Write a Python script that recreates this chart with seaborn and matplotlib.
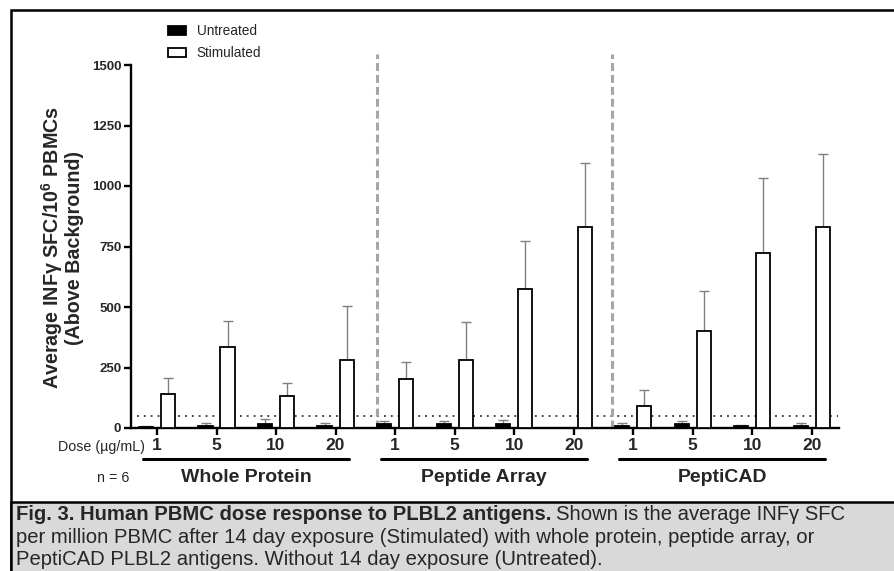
import numpy as np
import pandas as pd
import matplotlib
matplotlib.use("Agg")
import matplotlib.pyplot as plt
import seaborn as sns
from matplotlib.patches import Rectangle
from matplotlib.transforms import blended_transform_factory

# 1. Data (SFC per 10^6 PBMC, above background)
groups = ["Whole Protein", "Peptide Array", "PeptiCAD"]
doses = ["1", "5", "10", "20"]
treatments = ["Untreated", "Stimulated"]

untreated_mean = [4, 8, 18, 10, 15, 15, 16, 0, 10, 15, 8, 10]
untreated_sd = [4, 14, 18, 9, 15, 15, 16, 0, 9, 15, 3, 12]
stimulated_mean = [142, 333, 131, 283, 203, 282, 575, 830, 92, 400, 724, 832]
stimulated_sd = [64, 109, 57, 222, 70, 156, 198, 264, 64, 168, 309, 301]

threshold = 50
divider_pos = [3.70, 7.65]

caption_bold = "Fig. 3. Human PBMC dose response to PLBL2 antigens."
caption_rest = ["Shown is the average INF\u03b3 SFC",
                "per million PBMC after 14 day exposure (Stimulated) with whole protein, peptide array, or",
                "PeptiCAD PLBL2 antigens. Without 14 day exposure (Untreated)."]

# 2. Long-format table for seaborn
conditions = [f"{g} {d}" for g in groups for d in doses]
df = pd.DataFrame({
    "condition": conditions * 2,
    "treatment": ["Untreated"] * len(conditions) + ["Stimulated"] * len(conditions),
    "mean": untreated_mean + stimulated_mean,
})

sns.set_theme(style="ticks")
plt.rcParams["font.family"] = ["Liberation Sans", "DejaVu Sans"]
plt.rcParams["mathtext.fontset"] = "custom"
plt.rcParams["mathtext.rm"] = "Liberation Sans"
plt.rcParams["mathtext.bf"] = "Liberation Sans:bold"

W, H = 895, 571
fig = plt.figure(figsize=(W / 100, H / 100), dpi=100)
ax = fig.add_axes([131 / W, 1 - 428 / H, 708 / W, 363 / H])

# 3. Bars
sns.barplot(data=df, x="condition", y="mean", hue="treatment",
            order=conditions, hue_order=treatments,
            palette={"Untreated": "black", "Stimulated": "white"},
            saturation=1, edgecolor="black", linewidth=1.3,
            width=0.74, gap=0.36, errorbar=None, ax=ax, zorder=3)

# one-sided (upper) SD error bars
for cont, sds in zip(ax.containers, [untreated_sd, stimulated_sd]):
    for bar, sd in zip(cont, sds):
        if sd <= 0:
            continue
        xc = bar.get_x() + bar.get_width() / 2
        ax.errorbar(xc, bar.get_height(), yerr=[[0], [sd]], fmt="none",
                    ecolor="#808080", elinewidth=1.0, capsize=3.5, capthick=1.0, zorder=2)

# background threshold + group dividers
ax.hlines(threshold, -0.34, 11.45, colors="#333333", linewidth=1.3,
          linestyles=(0, (1, 2.8)), zorder=1)
for xv in divider_pos:
    ax.axvline(xv, ymin=0, ymax=1.03, color="#a6a6a6", linewidth=2.2,
               linestyle=(0, (2.6, 1.3)), clip_on=False, zorder=1)

# 4. Axes styling
ax.set_xlim(-0.437, 11.46)
ax.set_ylim(0, 1500)
ax.set_yticks(range(0, 1501, 250))
ax.set_yticklabels([str(v) for v in range(0, 1501, 250)], fontsize=9.5, fontweight="bold")
ax.set_xticks(range(len(conditions)))
ax.set_xticklabels(doses * len(groups), fontsize=12.5, fontweight="bold")
ax.tick_params(axis="both", length=5, width=1.7, color="black")
ax.tick_params(axis="x", pad=2.5)
ax.tick_params(axis="y", pad=2)
ax.set_xlabel("")
ax.set_ylabel("")
sns.despine(ax=ax)
for s in ["left", "bottom"]:
    ax.spines[s].set_linewidth(1.7)
    ax.spines[s].set_color("black")

# legend above the plot
handles = [ax.containers[0][0], ax.containers[1][0]]
ax.legend(handles, treatments, loc="upper left", bbox_to_anchor=(168 / W, 1 - 24 / H),
          bbox_transform=fig.transFigure, frameon=False, fontsize=9.8,
          handlelength=1.35, handleheight=0.6, labelspacing=0.62,
          handletextpad=0.75, borderpad=0, borderaxespad=0)

# group underlines and labels
trans = blended_transform_factory(ax.transData, ax.transAxes)
for i, g in enumerate(groups):
    x0, x1 = i * 4 - 0.23, i * 4 + 3 + 0.22
    ax.plot([x0, x1], [-0.0854, -0.0854], color="black", linewidth=2.2,
            transform=trans, clip_on=False)
    ax.text(i * 4 + 1.5, -0.135, g, transform=trans, ha="center", va="center",
            fontsize=14, fontweight="bold")

fig.text(145 / W, 1 - 447 / H, "Dose (\u00b5g/mL)", ha="right", va="center", fontsize=10.3)
fig.text(113 / W, 1 - 478 / H, "n = 6", ha="center", va="center", fontsize=10.3)

fig.text(62 / W, 1 - 248 / H,
         "Average INF\u03b3 SFC/10$^{\\mathbf{6}}$ PBMCs\n(Above Background)",
         rotation=90, ha="center", va="center", fontsize=14.2, fontweight="bold",
         multialignment="center", linespacing=1.0)

# 5. Frame and caption box
fig.add_artist(Rectangle((11 / W, -0.1), 1.0, 1.1 - 10 / H, transform=fig.transFigure,
                         facecolor="none", edgecolor="black", linewidth=1.8, clip_on=False))
fig.add_artist(Rectangle((11 / W, -0.1), 1.0, 0.1 + (H - 502) / H, transform=fig.transFigure,
                         facecolor="#d9d9d9", edgecolor="black", linewidth=1.8, clip_on=False))

cap_base = [520, 543, 565]
fs_cap = 14.6
t = fig.text(16 / W, 1 - cap_base[0] / H, caption_bold, ha="left", va="baseline",
             fontsize=fs_cap, fontweight="bold")
fig.canvas.draw()
bb = t.get_window_extent(fig.canvas.get_renderer())
fig.text((bb.x1 + 5) / W, 1 - cap_base[0] / H, caption_rest[0], ha="left", va="baseline",
         fontsize=fs_cap)
for line, yy in zip(caption_rest[1:], cap_base[1:]):
    fig.text(16 / W, 1 - yy / H, line, ha="left", va="baseline", fontsize=fs_cap)

fig.savefig("out.png", dpi=100)
